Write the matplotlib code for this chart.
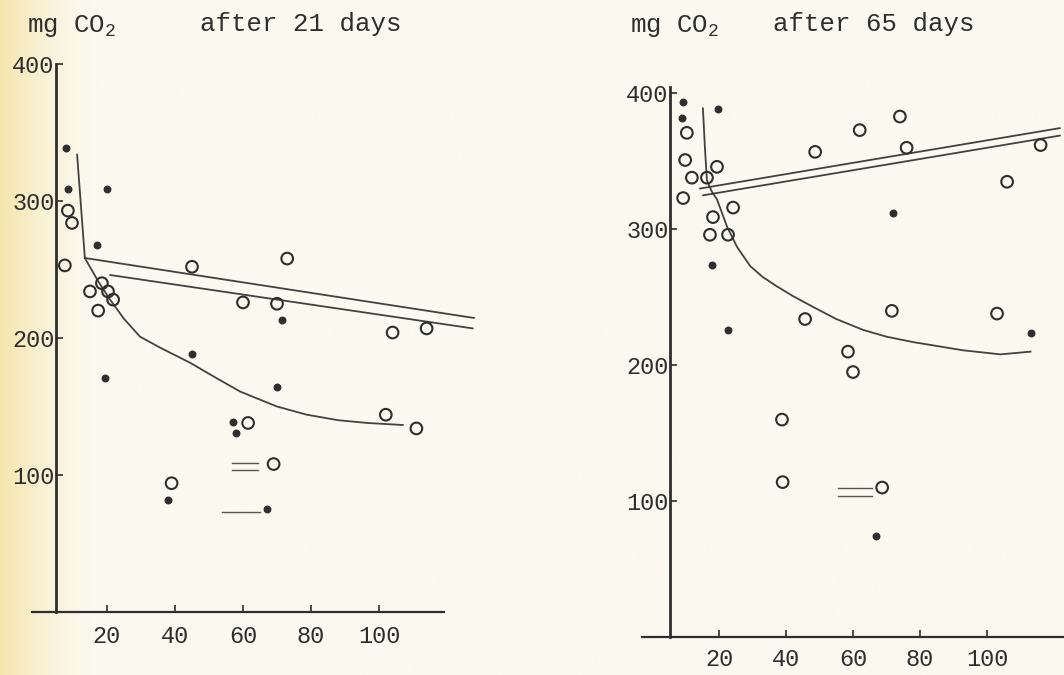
import numpy as np
import matplotlib
matplotlib.use("Agg")
import matplotlib.pyplot as plt

plt.rcParams["font.family"] = ["Liberation Mono", "DejaVu Sans Mono"]
plt.rcParams["mathtext.fontset"] = "custom"
plt.rcParams["mathtext.rm"] = "Liberation Mono"

# ---------------- data: panel A (after 21 days) ----------------
a_open_x = [8.5, 9.7, 7.6, 15, 18.5, 20.3, 21.8, 17.4, 45, 73, 60, 70, 104, 114, 61.5, 102, 111, 39, 69]
a_open_y = [293, 284, 253, 234, 240, 234, 228, 220, 252, 258, 226, 225, 204, 207, 138, 144, 134, 94, 108]
a_fill_x = [7.9, 20, 8.5, 17, 71.5, 19.4, 45, 70, 57, 58, 38, 67]
a_fill_y = [339, 309, 309, 268, 213, 171, 188, 164, 139, 131, 82, 75]
a_steep_x = [11.2, 13.5]
a_steep_y = [334, 258]
a_line1_x = [13.5, 128]
a_line1_y = [258.4, 214.6]
a_line2_x = [20.9, 127.6]
a_line2_y = [246, 207]
a_curve_x = [13.8, 17.5, 20.9, 25, 29.7, 35.6, 44.4, 52, 59.1, 65, 70, 78.8, 88, 96.5, 107]
a_curve_y = [257, 241, 228, 214, 201, 193, 182, 171, 161, 155, 150, 144, 140, 138, 136.5]
a_dash_x0 = [56.8, 56.8, 53.8]
a_dash_x1 = [64.4, 64.4, 65.0]
a_dash_y = [109, 103.6, 73.2]

# ---------------- data: panel B (after 65 days) ----------------
b_open_x = [10.4, 9.9, 11.9, 19.4, 16.4, 9.3, 24.2, 18.2, 17.3, 22.7, 48.7, 62, 74, 76, 116, 106,
            45.7, 71.6, 103, 60, 38.8, 39, 68.7, 58.5]
b_open_y = [371, 351, 338, 346, 338, 323, 316, 309, 296, 296, 357, 373, 383, 360, 362, 335,
            234, 240, 238, 195, 160, 114, 110, 210]
b_fill_x = [9.3, 19.7, 9.0, 17.9, 72, 22.7, 113, 67]
b_fill_y = [394, 388.5, 382, 274, 312, 226, 224, 74]
b_curve_x = [15.2, 15.8, 16.4, 17.8, 19.4, 22.4, 25.4, 29.3, 33, 37.3, 42, 48, 55, 63, 70, 78, 92.8, 104, 113]
b_curve_y = [389, 360, 336, 328, 322, 302, 287, 273, 265, 258, 251, 243, 234, 226, 221, 217, 211, 208, 210]
b_line1_x = [14.3, 121.8]
b_line1_y = [330, 374.5]
b_line2_x = [15.2, 121.8]
b_line2_y = [325, 369]
b_dash_x0 = [55.5, 55.5]
b_dash_x1 = [65.7, 65.7]
b_dash_y = [109.4, 103.8]

xticks = [20, 40, 60, 80, 100]
yticks = [100, 200, 300, 400]

INK = "#2e2e2e"
PAPER = "#fbf9f0"

W, H = 1064, 675
fig = plt.figure(figsize=(W / 100, H / 100), dpi=100, facecolor=PAPER)

# paper background with a yellowish tint on the left edge
bg = fig.add_axes([0, 0, 1, 1])
bg.set_axis_off()
gx = np.linspace(0, 1, 400)
t = np.clip(1 - gx / 0.09, 0, 1) ** 1.5
c0 = np.array([0xf5, 0xe6, 0xae]) / 255
c1 = np.array([0xfb, 0xf9, 0xf0]) / 255
img = (c1[None, :] * (1 - t[:, None]) + c0[None, :] * t[:, None])[None, :, :]
bg.imshow(img, aspect="auto", extent=[0, 1, 0, 1])
bg.set_xlim(0, 1)
bg.set_ylim(0, 1)


def make_axes(rect, xlim, ylim, yspine_x, xbounds, ybounds, xpad):
    ax = fig.add_axes(rect)
    ax.set_facecolor("none")
    ax.set_xlim(*xlim)
    ax.set_ylim(*ylim)
    for s in ["top", "right"]:
        ax.spines[s].set_visible(False)
    ax.spines["left"].set_position(("data", yspine_x))
    ax.spines["bottom"].set_position(("data", 0))
    ax.spines["left"].set_bounds(*ybounds)
    ax.spines["bottom"].set_bounds(*xbounds)
    ax.spines["left"].set_linewidth(2.0)
    ax.spines["bottom"].set_linewidth(1.6)
    ax.spines["left"].set_color(INK)
    ax.spines["bottom"].set_color(INK)
    ax.set_xticks(xticks)
    ax.set_yticks(yticks)
    ax.tick_params(axis="y", direction="in", length=5, width=1.2, pad=1,
                   labelsize=17, colors=INK)
    ax.tick_params(axis="x", direction="in", length=5, width=1.2, pad=xpad,
                   labelsize=17, colors=INK)
    return ax


def draw_panel(ax, ox, oy, fx, fy, segs, curve, dashes):
    for (sx, sy) in segs:
        ax.plot(sx, sy, color=INK, lw=1.3, solid_capstyle="round", alpha=0.9)
    ax.plot(curve[0], curve[1], color=INK, lw=1.3, alpha=0.9, solid_joinstyle="round")
    x0, x1, dy = dashes
    for a, b, y in zip(x0, x1, dy):
        ax.plot([a, b], [y, y], color=INK, lw=1.0, alpha=0.8)
    ax.scatter(ox, oy, s=70, facecolors="none", edgecolors=INK, linewidths=1.5, zorder=3)
    ax.scatter(fx, fy, s=22, color=INK, zorder=3)


# panel A
axA = make_axes([11.8 / W, 0.03244, 476 / W, 0.9133], (-8, 132), (-30, 420),
                5, (-2, 119), (0, 400), 9)
draw_panel(axA, a_open_x, a_open_y, a_fill_x, a_fill_y,
           [(a_steep_x, a_steep_y), (a_line1_x, a_line1_y), (a_line2_x, a_line2_y)],
           (a_curve_x, a_curve_y), (a_dash_x0, a_dash_x1, a_dash_y))

# panel B
axB = make_axes([625.2 / W, -0.00415, 445.55 / W, 0.906], (-8, 125), (-30, 420),
                5.4, (-3, 125), (0, 405), 8)
draw_panel(axB, b_open_x, b_open_y, b_fill_x, b_fill_y,
           [(b_line1_x, b_line1_y), (b_line2_x, b_line2_y)],
           (b_curve_x, b_curve_y), (b_dash_x0, b_dash_x1, b_dash_y))

# headings
fig.text(27 / W, 1 - 26 / H, "mg CO$_2$", fontsize=18.5, color=INK, va="center", ha="left")
fig.text(200 / W, 1 - 24 / H, "after 21 days", fontsize=18.5, color=INK, va="center", ha="left")
fig.text(630 / W, 1 - 26 / H, "mg CO$_2$", fontsize=18.5, color=INK, va="center", ha="left")
fig.text(773 / W, 1 - 24 / H, "after 65 days", fontsize=18.5, color=INK, va="center", ha="left")

fig.savefig("out.png", dpi=100, facecolor=PAPER)
